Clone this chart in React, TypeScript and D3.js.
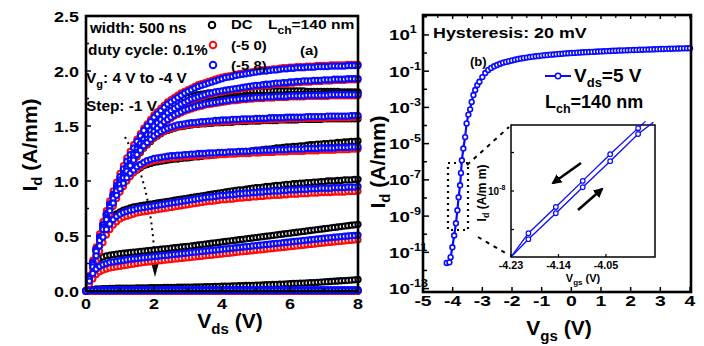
import React from 'react';
import * as d3 from 'd3';

// ---------- Panel (a): output characteristics, Vds sweep (V) ----------
const vds = [
  0, 0.1, 0.2, 0.3, 0.4, 0.5, 0.6, 0.7, 0.8, 0.9,
  1, 1.1, 1.2, 1.3, 1.4, 1.5, 1.6, 1.7, 1.8, 1.9,
  2, 2.1, 2.2, 2.3, 2.4, 2.5, 2.6, 2.7, 2.8, 2.9,
  3, 3.1, 3.2, 3.3, 3.4, 3.5, 3.6, 3.7, 3.8, 3.9,
  4, 4.1, 4.2, 4.3, 4.4, 4.5, 4.6, 4.7, 4.8, 4.9,
  5, 5.1, 5.2, 5.3, 5.4, 5.5, 5.6, 5.7, 5.8, 5.9,
  6, 6.1, 6.2, 6.3, 6.4, 6.5, 6.6, 6.7, 6.8, 6.9,
  7, 7.1, 7.2, 7.3, 7.4, 7.5, 7.6, 7.7, 7.8, 7.9,
  8,
];

// DC (black), Vg = 4 ... -4 V
const dcVg4 = [
  0, 0.13, 0.26, 0.38, 0.49, 0.6, 0.7, 0.79, 0.88, 0.96,
  1.03, 1.1, 1.16, 1.22, 1.28, 1.33, 1.38, 1.42, 1.46, 1.5,
  1.54, 1.57, 1.6, 1.63, 1.66, 1.68, 1.7, 1.72, 1.735, 1.75,
  1.76, 1.77, 1.78, 1.785, 1.79, 1.795, 1.8, 1.8, 1.805, 1.805,
  1.81, 1.81, 1.81, 1.815, 1.815, 1.815, 1.815, 1.82, 1.82, 1.82,
  1.82, 1.82, 1.82, 1.82, 1.82, 1.82, 1.82, 1.82, 1.82, 1.82,
  1.82, 1.82, 1.82, 1.82, 1.82, 1.815, 1.815, 1.815, 1.815, 1.815,
  1.815, 1.815, 1.815, 1.815, 1.815, 1.81, 1.81, 1.81, 1.81, 1.81,
  1.81,
];
const dcVg3 = [
  0, 0.13, 0.26, 0.38, 0.49, 0.6, 0.69, 0.78, 0.86, 0.93,
  0.99, 1.05, 1.11, 1.16, 1.21, 1.26, 1.3, 1.34, 1.38, 1.42,
  1.45, 1.48, 1.51, 1.54, 1.56, 1.58, 1.6, 1.62, 1.64, 1.66,
  1.67, 1.68, 1.69, 1.7, 1.71, 1.72, 1.725, 1.73, 1.735, 1.74,
  1.745, 1.75, 1.75, 1.755, 1.755, 1.76, 1.76, 1.765, 1.765, 1.77,
  1.77, 1.77, 1.775, 1.775, 1.775, 1.78, 1.78, 1.78, 1.78, 1.785,
  1.785, 1.785, 1.785, 1.785, 1.79, 1.79, 1.79, 1.79, 1.79, 1.79,
  1.795, 1.795, 1.795, 1.795, 1.795, 1.795, 1.795, 1.795, 1.795, 1.795,
  1.795,
];
const dcVg2 = [
  0, 0.13, 0.25, 0.37, 0.48, 0.58, 0.67, 0.76, 0.84, 0.91,
  0.97, 1.03, 1.08, 1.13, 1.18, 1.22, 1.26, 1.3, 1.33, 1.36,
  1.39, 1.41, 1.43, 1.45, 1.46, 1.47, 1.48, 1.49, 1.495, 1.5,
  1.505, 1.51, 1.515, 1.515, 1.52, 1.52, 1.525, 1.525, 1.53, 1.53,
  1.53, 1.535, 1.535, 1.535, 1.54, 1.54, 1.54, 1.54, 1.545, 1.545,
  1.545, 1.545, 1.55, 1.55, 1.55, 1.55, 1.55, 1.555, 1.555, 1.555,
  1.555, 1.555, 1.555, 1.56, 1.56, 1.56, 1.56, 1.56, 1.56, 1.56,
  1.565, 1.565, 1.565, 1.565, 1.565, 1.565, 1.565, 1.565, 1.565, 1.565,
  1.565,
];
const dcVg1 = [
  0, 0.12, 0.24, 0.35, 0.45, 0.55, 0.64, 0.72, 0.79, 0.86,
  0.92, 0.97, 1.01, 1.05, 1.08, 1.1, 1.12, 1.14, 1.15, 1.16,
  1.17, 1.175, 1.18, 1.185, 1.19, 1.195, 1.2, 1.2, 1.205, 1.21,
  1.21, 1.215, 1.22, 1.22, 1.225, 1.23, 1.23, 1.235, 1.24, 1.24,
  1.245, 1.25, 1.25, 1.255, 1.26, 1.26, 1.265, 1.27, 1.27, 1.275,
  1.28, 1.28, 1.285, 1.29, 1.29, 1.295, 1.3, 1.3, 1.305, 1.31,
  1.31, 1.315, 1.315, 1.32, 1.32, 1.325, 1.33, 1.33, 1.335, 1.335,
  1.34, 1.34, 1.345, 1.345, 1.35, 1.35, 1.355, 1.355, 1.36, 1.36,
  1.365,
];
const dcVg0 = [
  0, 0.11, 0.22, 0.32, 0.42, 0.5, 0.57, 0.63, 0.67, 0.7,
  0.72, 0.735, 0.745, 0.755, 0.765, 0.77, 0.775, 0.78, 0.785, 0.79,
  0.795, 0.8, 0.805, 0.81, 0.815, 0.82, 0.825, 0.83, 0.835, 0.84,
  0.845, 0.85, 0.855, 0.86, 0.865, 0.87, 0.875, 0.88, 0.885, 0.89,
  0.895, 0.9, 0.905, 0.91, 0.915, 0.92, 0.92, 0.925, 0.93, 0.935,
  0.94, 0.94, 0.945, 0.95, 0.95, 0.955, 0.96, 0.96, 0.965, 0.97,
  0.97, 0.975, 0.975, 0.98, 0.98, 0.985, 0.985, 0.99, 0.99, 0.995,
  0.995, 1.0, 1.0, 1.0, 1.005, 1.005, 1.01, 1.01, 1.01, 1.015,
  1.015,
];
const dcVgm1 = [
  0, 0.13, 0.22, 0.27, 0.295, 0.31, 0.32, 0.325, 0.33, 0.335,
  0.34, 0.343, 0.346, 0.35, 0.353, 0.356, 0.36, 0.363, 0.366, 0.37,
  0.373, 0.376, 0.38, 0.383, 0.386, 0.39, 0.393, 0.396, 0.4, 0.403,
  0.406, 0.41, 0.414, 0.418, 0.422, 0.426, 0.43, 0.434, 0.438, 0.442,
  0.446, 0.45, 0.454, 0.458, 0.462, 0.466, 0.47, 0.474, 0.478, 0.482,
  0.486, 0.49, 0.494, 0.498, 0.502, 0.506, 0.51, 0.514, 0.518, 0.522,
  0.526, 0.53, 0.534, 0.538, 0.542, 0.546, 0.55, 0.554, 0.558, 0.562,
  0.566, 0.57, 0.574, 0.578, 0.582, 0.586, 0.59, 0.594, 0.598, 0.602,
  0.606,
];
const dcVgm2 = [
  0, 0.01, 0.015, 0.018, 0.02, 0.021, 0.022, 0.023, 0.024, 0.025,
  0.025, 0.026, 0.026, 0.027, 0.027, 0.028, 0.028, 0.029, 0.029, 0.03,
  0.03, 0.031, 0.031, 0.032, 0.032, 0.033, 0.033, 0.034, 0.034, 0.035,
  0.035, 0.036, 0.037, 0.037, 0.038, 0.039, 0.039, 0.04, 0.041, 0.042,
  0.043, 0.044, 0.045, 0.046, 0.047, 0.048, 0.049, 0.05, 0.051, 0.052,
  0.053, 0.054, 0.055, 0.057, 0.058, 0.059, 0.061, 0.062, 0.063, 0.065,
  0.066, 0.068, 0.069, 0.071, 0.072, 0.074, 0.076, 0.077, 0.079, 0.081,
  0.083, 0.085, 0.087, 0.089, 0.091, 0.093, 0.095, 0.097, 0.099, 0.102,
  0.105,
];
const dcVgm3 = [
  0, 0.002, 0.002, 0.002, 0.002, 0.002, 0.002, 0.002, 0.002, 0.002,
  0.002, 0.002, 0.002, 0.002, 0.002, 0.002, 0.002, 0.002, 0.002, 0.002,
  0.002, 0.002, 0.002, 0.002, 0.002, 0.002, 0.002, 0.002, 0.002, 0.002,
  0.002, 0.002, 0.002, 0.002, 0.002, 0.002, 0.002, 0.002, 0.002, 0.002,
  0.002, 0.002, 0.002, 0.002, 0.002, 0.002, 0.002, 0.002, 0.002, 0.002,
  0.002, 0.002, 0.002, 0.002, 0.002, 0.002, 0.002, 0.002, 0.002, 0.002,
  0.002, 0.002, 0.002, 0.002, 0.002, 0.002, 0.002, 0.002, 0.002, 0.002,
  0.002, 0.002, 0.002, 0.002, 0.002, 0.002, 0.002, 0.002, 0.002, 0.002,
  0.002,
];
const dcVgm4 = [
  0, 0, 0, 0, 0, 0, 0, 0, 0, 0,
  0, 0, 0, 0, 0, 0, 0, 0, 0, 0,
  0, 0, 0, 0, 0, 0, 0, 0, 0, 0,
  0, 0, 0, 0, 0, 0, 0, 0, 0, 0,
  0, 0, 0, 0, 0, 0, 0, 0, 0, 0,
  0, 0, 0, 0, 0, 0, 0, 0, 0, 0,
  0, 0, 0, 0, 0, 0, 0, 0, 0, 0,
  0, 0, 0, 0, 0, 0, 0, 0, 0, 0,
  0,
];

// Pulsed, quiescent (-5 0) (red)
const p50Vg4 = [
  0, 0.14, 0.28, 0.4, 0.52, 0.63, 0.73, 0.82, 0.91, 0.99,
  1.07, 1.14, 1.21, 1.27, 1.33, 1.38, 1.43, 1.48, 1.52, 1.56,
  1.6, 1.63, 1.66, 1.69, 1.72, 1.74, 1.76, 1.78, 1.8, 1.815,
  1.83, 1.845, 1.86, 1.875, 1.885, 1.895, 1.905, 1.915, 1.925, 1.935,
  1.945, 1.95, 1.955, 1.96, 1.97, 1.975, 1.98, 1.985, 1.99, 1.995,
  2.0, 2.005, 2.01, 2.01, 2.015, 2.02, 2.02, 2.025, 2.03, 2.03,
  2.035, 2.035, 2.04, 2.04, 2.04, 2.045, 2.045, 2.045, 2.05, 2.05,
  2.05, 2.05, 2.055, 2.055, 2.055, 2.055, 2.055, 2.06, 2.06, 2.06,
  2.06,
];
const p50Vg3 = [
  0, 0.13, 0.26, 0.38, 0.49, 0.6, 0.7, 0.79, 0.87, 0.94,
  1.0, 1.06, 1.12, 1.18, 1.23, 1.28, 1.33, 1.37, 1.41, 1.45,
  1.49, 1.52, 1.55, 1.58, 1.61, 1.63, 1.65, 1.67, 1.69, 1.705,
  1.72, 1.735, 1.745, 1.755, 1.765, 1.775, 1.785, 1.79, 1.8, 1.805,
  1.81, 1.815, 1.82, 1.825, 1.83, 1.835, 1.84, 1.845, 1.85, 1.855,
  1.86, 1.86, 1.865, 1.87, 1.87, 1.875, 1.88, 1.88, 1.885, 1.885,
  1.89, 1.89, 1.895, 1.895, 1.9, 1.9, 1.9, 1.905, 1.905, 1.905,
  1.91, 1.91, 1.91, 1.915, 1.915, 1.915, 1.915, 1.92, 1.92, 1.92,
  1.92,
];
const p50Vg2 = [
  0, 0.13, 0.26, 0.38, 0.49, 0.59, 0.68, 0.77, 0.85, 0.92,
  0.98, 1.04, 1.1, 1.15, 1.2, 1.25, 1.29, 1.33, 1.37, 1.41,
  1.44, 1.47, 1.5, 1.53, 1.55, 1.57, 1.59, 1.605, 1.62, 1.635,
  1.645, 1.655, 1.665, 1.675, 1.68, 1.69, 1.695, 1.7, 1.705, 1.71,
  1.715, 1.72, 1.725, 1.73, 1.73, 1.735, 1.74, 1.74, 1.745, 1.745,
  1.75, 1.75, 1.75, 1.755, 1.755, 1.755, 1.76, 1.76, 1.76, 1.76,
  1.765, 1.765, 1.765, 1.765, 1.765, 1.77, 1.77, 1.77, 1.77, 1.77,
  1.77, 1.77, 1.775, 1.775, 1.775, 1.775, 1.775, 1.775, 1.775, 1.775,
  1.775,
];
const p50Vg1 = [
  0, 0.12, 0.24, 0.36, 0.47, 0.57, 0.66, 0.75, 0.83, 0.9,
  0.96, 1.02, 1.08, 1.13, 1.18, 1.225, 1.265, 1.305, 1.335, 1.365,
  1.395, 1.415, 1.435, 1.45, 1.465, 1.475, 1.485, 1.495, 1.5, 1.505,
  1.51, 1.515, 1.515, 1.52, 1.525, 1.525, 1.53, 1.53, 1.535, 1.535,
  1.54, 1.54, 1.54, 1.545, 1.545, 1.545, 1.55, 1.55, 1.55, 1.55,
  1.555, 1.555, 1.555, 1.555, 1.56, 1.56, 1.56, 1.56, 1.56, 1.565,
  1.565, 1.565, 1.565, 1.565, 1.565, 1.57, 1.57, 1.57, 1.57, 1.57,
  1.57, 1.575, 1.575, 1.575, 1.575, 1.575, 1.575, 1.575, 1.58, 1.58,
  1.58,
];
const p50Vg0 = [
  0, 0.11, 0.22, 0.33, 0.43, 0.53, 0.62, 0.7, 0.77, 0.84,
  0.9, 0.95, 1.0, 1.04, 1.075, 1.105, 1.13, 1.15, 1.165, 1.175,
  1.185, 1.19, 1.195, 1.2, 1.205, 1.21, 1.21, 1.215, 1.215, 1.22,
  1.22, 1.225, 1.225, 1.23, 1.23, 1.23, 1.235, 1.235, 1.235, 1.24,
  1.24, 1.24, 1.245, 1.245, 1.245, 1.25, 1.25, 1.25, 1.25, 1.255,
  1.255, 1.255, 1.26, 1.26, 1.26, 1.26, 1.265, 1.265, 1.265, 1.265,
  1.27, 1.27, 1.27, 1.27, 1.27, 1.275, 1.275, 1.275, 1.275, 1.28,
  1.28, 1.28, 1.28, 1.28, 1.285, 1.285, 1.285, 1.285, 1.29, 1.29,
  1.29,
];
const p50Vgm1 = [
  0, 0.09, 0.18, 0.27, 0.36, 0.44, 0.51, 0.56, 0.6, 0.63,
  0.655, 0.67, 0.68, 0.69, 0.7, 0.71, 0.715, 0.72, 0.725, 0.73,
  0.735, 0.74, 0.745, 0.75, 0.755, 0.76, 0.765, 0.77, 0.775, 0.78,
  0.785, 0.79, 0.795, 0.8, 0.805, 0.81, 0.815, 0.815, 0.82, 0.825,
  0.83, 0.83, 0.835, 0.835, 0.84, 0.845, 0.845, 0.85, 0.85, 0.855,
  0.855, 0.86, 0.86, 0.865, 0.865, 0.87, 0.87, 0.87, 0.875, 0.875,
  0.88, 0.88, 0.88, 0.885, 0.885, 0.885, 0.89, 0.89, 0.89, 0.895,
  0.895, 0.895, 0.895, 0.9, 0.9, 0.9, 0.9, 0.905, 0.905, 0.905,
  0.91,
];
const p50Vgm2 = [
  0, 0.06, 0.11, 0.15, 0.175, 0.19, 0.2, 0.21, 0.215, 0.22,
  0.225, 0.23, 0.235, 0.24, 0.245, 0.25, 0.255, 0.26, 0.263, 0.266,
  0.27, 0.273, 0.276, 0.28, 0.283, 0.286, 0.29, 0.293, 0.296, 0.3,
  0.303, 0.306, 0.31, 0.313, 0.316, 0.32, 0.323, 0.326, 0.33, 0.333,
  0.336, 0.34, 0.343, 0.346, 0.35, 0.353, 0.356, 0.36, 0.363, 0.366,
  0.37, 0.373, 0.376, 0.38, 0.383, 0.386, 0.39, 0.393, 0.396, 0.4,
  0.403, 0.406, 0.41, 0.413, 0.416, 0.42, 0.423, 0.426, 0.43, 0.433,
  0.436, 0.44, 0.443, 0.446, 0.449, 0.452, 0.455, 0.458, 0.461, 0.464,
  0.467,
];
const p50Vgm3 = [
  0, 0.004, 0.004, 0.004, 0.004, 0.004, 0.004, 0.004, 0.004, 0.004,
  0.004, 0.004, 0.004, 0.004, 0.004, 0.004, 0.004, 0.004, 0.004, 0.004,
  0.004, 0.004, 0.004, 0.004, 0.004, 0.004, 0.004, 0.004, 0.004, 0.004,
  0.004, 0.004, 0.004, 0.004, 0.004, 0.004, 0.004, 0.004, 0.004, 0.004,
  0.004, 0.004, 0.004, 0.004, 0.004, 0.004, 0.004, 0.004, 0.004, 0.004,
  0.004, 0.004, 0.004, 0.004, 0.004, 0.004, 0.004, 0.004, 0.004, 0.004,
  0.004, 0.004, 0.004, 0.004, 0.004, 0.004, 0.004, 0.004, 0.004, 0.004,
  0.004, 0.004, 0.004, 0.004, 0.004, 0.004, 0.004, 0.004, 0.004, 0.004,
  0.004,
];
const p50Vgm4 = dcVgm4;

// Pulsed, quiescent (-5 8) (blue)
const p58Vg4 = [
  0, 0.13, 0.26, 0.38, 0.49, 0.6, 0.7, 0.79, 0.88, 0.96,
  1.04, 1.11, 1.18, 1.24, 1.3, 1.36, 1.41, 1.46, 1.5, 1.54,
  1.58, 1.61, 1.64, 1.67, 1.7, 1.72, 1.74, 1.76, 1.78, 1.8,
  1.815, 1.83, 1.845, 1.86, 1.87, 1.88, 1.89, 1.9, 1.91, 1.92,
  1.93, 1.94, 1.945, 1.95, 1.96, 1.965, 1.97, 1.975, 1.98, 1.985,
  1.99, 1.995, 2.0, 2.0, 2.005, 2.01, 2.01, 2.015, 2.02, 2.02,
  2.025, 2.025, 2.03, 2.03, 2.03, 2.035, 2.035, 2.035, 2.04, 2.04,
  2.04, 2.04, 2.045, 2.045, 2.045, 2.045, 2.045, 2.05, 2.05, 2.05,
  2.05,
];
const p58Vg3 = [
  0, 0.13, 0.26, 0.38, 0.49, 0.6, 0.7, 0.79, 0.87, 0.94,
  1.01, 1.07, 1.13, 1.19, 1.24, 1.29, 1.34, 1.38, 1.42, 1.46,
  1.5, 1.53, 1.56, 1.59, 1.62, 1.64, 1.66, 1.68, 1.7, 1.715,
  1.73, 1.745, 1.755, 1.765, 1.775, 1.785, 1.795, 1.8, 1.81, 1.815,
  1.82, 1.825, 1.83, 1.835, 1.84, 1.845, 1.85, 1.855, 1.86, 1.865,
  1.87, 1.87, 1.875, 1.88, 1.88, 1.885, 1.89, 1.89, 1.895, 1.895,
  1.9, 1.9, 1.905, 1.905, 1.91, 1.91, 1.91, 1.915, 1.915, 1.915,
  1.92, 1.92, 1.92, 1.925, 1.925, 1.925, 1.925, 1.93, 1.93, 1.93,
  1.93,
];
const p58Vg2 = [
  0, 0.13, 0.26, 0.38, 0.49, 0.6, 0.69, 0.78, 0.86, 0.93,
  0.99, 1.05, 1.11, 1.16, 1.21, 1.26, 1.3, 1.34, 1.38, 1.42,
  1.45, 1.48, 1.51, 1.54, 1.56, 1.58, 1.6, 1.615, 1.63, 1.645,
  1.655, 1.665, 1.675, 1.685, 1.69, 1.7, 1.705, 1.71, 1.715, 1.72,
  1.725, 1.73, 1.735, 1.74, 1.74, 1.745, 1.75, 1.75, 1.755, 1.755,
  1.76, 1.76, 1.76, 1.765, 1.765, 1.765, 1.77, 1.77, 1.77, 1.77,
  1.775, 1.775, 1.775, 1.775, 1.775, 1.78, 1.78, 1.78, 1.78, 1.78,
  1.78, 1.78, 1.785, 1.785, 1.785, 1.785, 1.785, 1.785, 1.785, 1.785,
  1.785,
];
const p58Vg1 = [
  0, 0.13, 0.25, 0.37, 0.48, 0.58, 0.67, 0.76, 0.84, 0.91,
  0.97, 1.03, 1.09, 1.14, 1.19, 1.24, 1.28, 1.32, 1.35, 1.38,
  1.41, 1.43, 1.45, 1.465, 1.48, 1.49, 1.5, 1.51, 1.515, 1.52,
  1.525, 1.53, 1.53, 1.535, 1.54, 1.54, 1.545, 1.545, 1.55, 1.55,
  1.555, 1.555, 1.555, 1.56, 1.56, 1.56, 1.565, 1.565, 1.565, 1.565,
  1.57, 1.57, 1.57, 1.57, 1.575, 1.575, 1.575, 1.575, 1.575, 1.58,
  1.58, 1.58, 1.58, 1.58, 1.58, 1.585, 1.585, 1.585, 1.585, 1.585,
  1.585, 1.59, 1.59, 1.59, 1.59, 1.59, 1.59, 1.59, 1.595, 1.595,
  1.595,
];
const p58Vg0 = [
  0, 0.12, 0.24, 0.36, 0.46, 0.56, 0.65, 0.73, 0.8, 0.87,
  0.93, 0.98, 1.03, 1.07, 1.1, 1.13, 1.15, 1.17, 1.185, 1.195,
  1.205, 1.21, 1.215, 1.22, 1.225, 1.23, 1.23, 1.235, 1.235, 1.24,
  1.24, 1.245, 1.245, 1.25, 1.25, 1.25, 1.255, 1.255, 1.255, 1.26,
  1.26, 1.26, 1.265, 1.265, 1.265, 1.27, 1.27, 1.27, 1.27, 1.275,
  1.275, 1.275, 1.28, 1.28, 1.28, 1.28, 1.285, 1.285, 1.285, 1.285,
  1.29, 1.29, 1.29, 1.29, 1.29, 1.295, 1.295, 1.295, 1.295, 1.3,
  1.3, 1.3, 1.3, 1.3, 1.305, 1.305, 1.305, 1.305, 1.31, 1.31,
  1.31,
];
const p58Vgm1 = [
  0, 0.11, 0.22, 0.32, 0.41, 0.49, 0.56, 0.61, 0.65, 0.68,
  0.7, 0.715, 0.725, 0.735, 0.74, 0.75, 0.755, 0.76, 0.765, 0.77,
  0.775, 0.78, 0.785, 0.79, 0.795, 0.8, 0.805, 0.81, 0.815, 0.82,
  0.825, 0.83, 0.835, 0.84, 0.845, 0.85, 0.855, 0.855, 0.86, 0.865,
  0.87, 0.87, 0.875, 0.875, 0.88, 0.885, 0.885, 0.89, 0.89, 0.895,
  0.895, 0.9, 0.9, 0.905, 0.905, 0.91, 0.91, 0.91, 0.915, 0.915,
  0.92, 0.92, 0.92, 0.925, 0.925, 0.925, 0.93, 0.93, 0.93, 0.935,
  0.935, 0.935, 0.935, 0.94, 0.94, 0.94, 0.94, 0.945, 0.945, 0.945,
  0.95,
];
const p58Vgm2 = [
  0, 0.09, 0.16, 0.2, 0.225, 0.24, 0.25, 0.26, 0.265, 0.27,
  0.275, 0.28, 0.285, 0.29, 0.293, 0.296, 0.3, 0.303, 0.306, 0.31,
  0.313, 0.316, 0.32, 0.323, 0.326, 0.33, 0.333, 0.336, 0.34, 0.343,
  0.346, 0.35, 0.353, 0.356, 0.36, 0.363, 0.366, 0.37, 0.373, 0.376,
  0.38, 0.383, 0.386, 0.39, 0.393, 0.396, 0.4, 0.403, 0.406, 0.41,
  0.413, 0.416, 0.42, 0.423, 0.426, 0.43, 0.433, 0.436, 0.44, 0.443,
  0.446, 0.45, 0.453, 0.456, 0.46, 0.463, 0.466, 0.47, 0.473, 0.476,
  0.48, 0.483, 0.486, 0.489, 0.492, 0.495, 0.498, 0.5, 0.503, 0.505,
  0.508,
];
const p58Vgm3 = [
  0, 0.008, 0.01, 0.011, 0.012, 0.012, 0.012, 0.012, 0.012, 0.012,
  0.012, 0.012, 0.012, 0.012, 0.012, 0.012, 0.012, 0.012, 0.012, 0.012,
  0.012, 0.012, 0.012, 0.012, 0.012, 0.012, 0.012, 0.012, 0.012, 0.012,
  0.012, 0.012, 0.012, 0.012, 0.012, 0.012, 0.012, 0.012, 0.012, 0.012,
  0.012, 0.012, 0.012, 0.012, 0.012, 0.012, 0.012, 0.012, 0.012, 0.012,
  0.012, 0.012, 0.012, 0.012, 0.012, 0.012, 0.012, 0.012, 0.012, 0.012,
  0.012, 0.012, 0.012, 0.012, 0.012, 0.012, 0.012, 0.012, 0.012, 0.012,
  0.012, 0.012, 0.012, 0.012, 0.012, 0.012, 0.012, 0.012, 0.012, 0.012,
  0.012,
];
const p58Vgm4 = p50Vgm3;

// ---------- Panel (b): transfer curve at Vds = 5 V ----------
const vgsMain = [
  -4.2, -4.11, -4.07, -4.01, -3.95, -3.89, -3.84, -3.8, -3.75, -3.72,
  -3.69, -3.64, -3.58, -3.53, -3.47, -3.41, -3.36, -3.3, -3.24, -3.17,
  -3.1, -3.0, -2.9, -2.8, -2.7, -2.6, -2.5, -2.4, -2.3, -2.2,
  -2.1, -2.0, -1.9, -1.8, -1.7, -1.6, -1.5, -1.4, -1.3, -1.2,
  -1.1, -1.0, -0.9, -0.8, -0.7, -0.6, -0.5, -0.4, -0.3, -0.2,
  -0.1, 0, 0.1, 0.2, 0.3, 0.4, 0.5, 0.6, 0.7, 0.8,
  0.9, 1.0, 1.1, 1.2, 1.3, 1.4, 1.5, 1.6, 1.7, 1.8,
  1.9, 2.0, 2.1, 2.2, 2.3, 2.4, 2.5, 2.6, 2.7, 2.8,
  2.9, 3.0, 3.1, 3.2, 3.3, 3.4, 3.5, 3.6, 3.7, 3.8,
  3.9, 4.0,
];
const idMain = [
  2.6e-12, 2.8e-12, 5.4e-12, 1.9e-11, 8.5e-11, 4.0e-10, 2.1e-9, 1.1e-8, 5.0e-8, 2.4e-7,
  1.2e-6, 5.4e-6, 2.3e-5, 1.3e-4, 4.0e-4, 7.8e-4, 2.0e-3, 4.8e-3, 9.1e-3, 1.7e-2,
  0.026, 0.047, 0.079, 0.117, 0.151, 0.186, 0.219, 0.257, 0.295, 0.324,
  0.355, 0.389, 0.427, 0.468, 0.501, 0.537, 0.562, 0.603, 0.631, 0.661,
  0.692, 0.724, 0.759, 0.776, 0.813, 0.832, 0.871, 0.891, 0.912, 0.955,
  0.977, 1.0, 1.02, 1.05, 1.07, 1.1, 1.12, 1.14, 1.16, 1.19,
  1.21, 1.23, 1.25, 1.28, 1.3, 1.33, 1.35, 1.37, 1.39, 1.41,
  1.43, 1.45, 1.47, 1.49, 1.51, 1.53, 1.55, 1.57, 1.59, 1.62,
  1.64, 1.66, 1.68, 1.7, 1.72, 1.74, 1.76, 1.78, 1.8, 1.82,
  1.84, 1.86,
];

// Inset: hysteresis detail
const vgsInsetRev = [-4.23, -4.197, -4.145, -4.094, -4.042, -3.989, -3.975];
const idInsetRev = [3.05e-9, 4.68e-9, 7.5e-9, 1.2e-8, 1.94e-8, 3.1e-8, 3.5e-8];
const vgsInsetFwd = [-4.23, -4.197, -4.145, -4.094, -4.042, -3.989, -3.96];
const idInsetFwd = [3.05e-9, 4.2e-9, 6.7e-9, 1.07e-8, 1.71e-8, 2.79e-8, 3.45e-8];

// Tick values
const yTicksA = [0, 0.5, 1, 1.5, 2, 2.5];
const yMinorA = [0.25, 0.75, 1.25, 1.75, 2.25];
const xTicksA = [0, 2, 4, 6, 8];
const xMinorA = [1, 3, 5, 7];
const yExpB = [1, -1, -3, -5, -7, -9, -11, -13];
const yMinorExpB = [2, 0, -2, -4, -6, -8, -10, -12];
const xTicksB = [-5, -4, -3, -2, -1, 0, 1, 2, 3, 4];
const xTicksInset = [-4.23, -4.14, -4.05];
const yTicksInset = [5e-9, 1e-8, 2e-8];

const BLUE = '#0a0aff';
const RED = '#ff0a0a';
const FONT = "'Liberation Sans', Arial, Helvetica, sans-serif";

type TProps = {
  x: number; y: number; size: number; sx?: number; anchor?: string; rotate?: number;
  children: React.ReactNode;
};
const T = ({ x, y, size, sx = 1, anchor = 'start', rotate = 0, children }: TProps) => (
  <text
    transform={`translate(${x},${y}) scale(${sx},1)${rotate ? ` rotate(${rotate})` : ''}`}
    fontSize={size}
    fontFamily={FONT}
    fontWeight="bold"
    textAnchor={anchor as any}
    fill="#000"
  >
    {children}
  </text>
);

export default function App() {
  const xA = d3.scaleLinear().domain([0, 8]).range([86, 358]);
  const yA = d3.scaleLinear().domain([0, 2.5]).range([291, 16]);
  const xB = d3.scaleLinear().domain([-5, 4]).range([423, 690]);
  const yB = d3.scaleLog().domain([6.46e-14, 125.9]).range([292, 15]);
  const xI = d3.scaleLinear().domain([-4.23, -3.957]).range([511, 655]);
  const yI = d3.scaleLog().domain([3.05e-9, 3.28e-8]).range([257, 125]);

  const groups = [
    { color: '#000', curves: [dcVg4, dcVg3, dcVg2, dcVg1, dcVg0, dcVgm1, dcVgm2, dcVgm3, dcVgm4] },
    { color: RED, curves: [p50Vg4, p50Vg3, p50Vg2, p50Vg1, p50Vg0, p50Vgm1, p50Vgm2, p50Vgm3, p50Vgm4] },
    { color: BLUE, curves: [p58Vg4, p58Vg3, p58Vg2, p58Vg1, p58Vg0, p58Vgm1, p58Vgm2, p58Vgm3, p58Vgm4] },
  ];

  const mainPts = vgsMain.map((v, i) => [v, idMain[i]] as [number, number]);
  const lineB = d3.line<[number, number]>().x((d) => xB(d[0])).y((d) => yB(d[1]));
  const lineI = d3.line<[number, number]>().x((d) => xI(d[0])).y((d) => yI(d[1]));
  const revPts = vgsInsetRev.map((v, i) => [v, idInsetRev[i]] as [number, number]);
  const fwdPts = vgsInsetFwd.map((v, i) => [v, idInsetFwd[i]] as [number, number]);

  return (
    <svg width={704} height={346} style={{ position: 'absolute', left: 0, top: 0, background: '#fff' }}>
      <defs>
        <marker id="ah" viewBox="0 0 10 10" refX="8" refY="5" markerWidth="4" markerHeight="4" orient="auto">
          <path d="M0,0 L10,5 L0,10 z" fill="#000" />
        </marker>
      </defs>
      <rect x={0} y={0} width={704} height={346} fill="#fff" />

      {/* ================= Panel (a) ================= */}
      <path d="M125,137 C140,165 152,200 155,265" fill="none" stroke="#000" strokeWidth={2} strokeDasharray="2,4" />
      <polygon points="151.5,264 158.5,264 155,277" fill="#000" />

      {groups.map((g, gi) => (
        <g key={gi}>
          {g.curves.map((c, ci) => (
            <g key={ci}>
              {c.map((v, i) => (
                <circle key={i} cx={xA(vds[i])} cy={yA(v)} r={2.6} fill="#fff" stroke={g.color} strokeWidth={2.1} />
              ))}
            </g>
          ))}
        </g>
      ))}

      {/* axes a */}
      <rect x={86} y={16} width={272} height={275} fill="none" stroke="#000" strokeWidth={2.6} />
      {yTicksA.map((t) => (
        <g key={t}>
          <line x1={86} x2={91} y1={yA(t)} y2={yA(t)} stroke="#000" strokeWidth={1.5} />
          <T x={79} y={yA(t) + 5.5} size={15} sx={1.2} anchor="end">{d3.format('.1f')(t)}</T>
        </g>
      ))}
      {yMinorA.map((t) => (
        <line key={t} x1={86} x2={89} y1={yA(t)} y2={yA(t)} stroke="#000" strokeWidth={1.5} />
      ))}
      {xTicksA.map((t) => (
        <g key={t}>
          <line x1={xA(t)} x2={xA(t)} y1={291} y2={286} stroke="#000" strokeWidth={1.5} />
          <T x={xA(t)} y={309} size={15} sx={1.2} anchor="middle">{String(t)}</T>
        </g>
      ))}
      {xMinorA.map((t) => (
        <line key={t} x1={xA(t)} x2={xA(t)} y1={291} y2={288} stroke="#000" strokeWidth={1.5} />
      ))}
      <T x={230} y={328} size={21} anchor="middle">
        V<tspan dy={6} fontSize={15}>ds</tspan><tspan dy={-6}> (V)</tspan>
      </T>
      <T x={37} y={145} size={21} anchor="middle" rotate={-90}>
        I<tspan dy={5} fontSize={15}>d</tspan><tspan dy={-5}> (A/mm)</tspan>
      </T>

      {/* annotations a */}
      <T x={90} y={33} size={14} sx={1.09}>width: 500 ns</T>
      <T x={88} y={55} size={14} sx={1.1}>duty cycle: 0.1%</T>
      <T x={86} y={83} size={14} sx={1.1}>
        V<tspan dy={5} fontSize={10}>g</tspan><tspan dy={-5}>: 4 V to -4 V</tspan>
      </T>
      <T x={86} y={111} size={14} sx={1.1}>Step: -1 V</T>
      <circle cx={212} cy={25} r={3.3} fill="#fff" stroke="#000" strokeWidth={1.9} />
      <circle cx={213} cy={45} r={3.3} fill="#fff" stroke={RED} strokeWidth={1.9} />
      <circle cx={213} cy={65} r={3.3} fill="#fff" stroke={BLUE} strokeWidth={1.9} />
      <T x={231} y={29} size={13} sx={1.15}>DC</T>
      <T x={231} y={50} size={13} sx={1.15}>(-5 0)</T>
      <T x={231} y={70} size={13} sx={1.15}>(-5 8)</T>
      <T x={268} y={29} size={13} sx={1.2}>
        L<tspan dy={5} fontSize={10}>ch</tspan><tspan dy={-5}>=140 nm</tspan>
      </T>
      <T x={300} y={55} size={13} sx={1.15}>(a)</T>

      {/* ================= Panel (b) ================= */}
      <rect x={448} y={163} width={20} height={67} fill="none" stroke="#000" strokeWidth={2.2} strokeDasharray="2,4" />
      <line x1={467} y1={165} x2={509} y2={127} stroke="#000" strokeWidth={2} strokeDasharray="4,5" />
      <line x1={478} y1={237} x2={509} y2={255} stroke="#000" strokeWidth={2} strokeDasharray="4,5" />

      <path d={lineB(mainPts) || ''} fill="none" stroke={BLUE} strokeWidth={2.2} />
      {mainPts.map((d, i) => (
        <circle key={i} cx={xB(d[0])} cy={yB(d[1])} r={2.4} fill="#fff" stroke={BLUE} strokeWidth={1.6} />
      ))}

      <rect x={423} y={15} width={268} height={277} fill="none" stroke="#000" strokeWidth={2.6} />
      {yExpB.map((e) => (
        <g key={e}>
          <line x1={423} x2={429} y1={yB(Math.pow(10, e))} y2={yB(Math.pow(10, e))} stroke="#000" strokeWidth={1.5} />
          <T x={389} y={yB(Math.pow(10, e)) + 5.5} size={15} sx={1.25}>
            10<tspan dy={-7} fontSize={10}>{String(e)}</tspan>
          </T>
        </g>
      ))}
      {yMinorExpB.map((e) => (
        <line key={e} x1={423} x2={427} y1={yB(Math.pow(10, e))} y2={yB(Math.pow(10, e))} stroke="#000" strokeWidth={1.5} />
      ))}
      {xTicksB.map((t) => (
        <g key={t}>
          <line x1={xB(t)} x2={xB(t)} y1={292} y2={287} stroke="#000" strokeWidth={1.5} />
          <line x1={xB(t)} x2={xB(t)} y1={15} y2={19} stroke="#000" strokeWidth={1.5} />
          <line x1={xB(t) + 14.8} x2={xB(t) + 14.8} y1={15} y2={18} stroke="#000" strokeWidth={1.2} />
          <T x={xB(t)} y={306} size={15.5} sx={1.25} anchor="middle">{String(t)}</T>
        </g>
      ))}
      <T x={559} y={335} size={21} anchor="middle">
        V<tspan dy={6} fontSize={15}>gs</tspan><tspan dy={-6}> (V)</tspan>
      </T>
      <T x={385} y={162} size={21} anchor="middle" rotate={-90}>
        I<tspan dy={5} fontSize={15}>d</tspan><tspan dy={-5}> (A/mm)</tspan>
      </T>

      <T x={433} y={38} size={15} sx={1.19}>Hysteresis: 20 mV</T>
      <T x={470} y={66} size={13}>(b)</T>
      <line x1={545} x2={571} y1={76} y2={76} stroke={BLUE} strokeWidth={2} />
      <circle cx={558} cy={76} r={2.7} fill="#fff" stroke={BLUE} strokeWidth={1.5} />
      <T x={574} y={82} size={19}>
        V<tspan dy={5} fontSize={13}>ds</tspan><tspan dy={-5}>=5 V</tspan>
      </T>
      <T x={545} y={108} size={18}>
        L<tspan dy={5} fontSize={12.5}>ch</tspan><tspan dy={-5}>=140 nm</tspan>
      </T>

      {/* ================= Inset ================= */}
      <rect x={511} y={125} width={144} height={132} fill="#fff" stroke="#000" strokeWidth={1.5} />
      <path d={lineI(revPts) || ''} fill="none" stroke={BLUE} strokeWidth={1.3} />
      <path d={lineI(fwdPts) || ''} fill="none" stroke={BLUE} strokeWidth={1.3} />
      {revPts.slice(1, -1).map((d, i) => (
        <circle key={'r' + i} cx={xI(d[0])} cy={yI(d[1])} r={2.3} fill="#fff" stroke={BLUE} strokeWidth={1.2} />
      ))}
      {fwdPts.slice(1, -1).map((d, i) => (
        <circle key={'f' + i} cx={xI(d[0])} cy={yI(d[1])} r={2.3} fill="#fff" stroke={BLUE} strokeWidth={1.2} />
      ))}
      {yTicksInset.map((t) => (
        <line key={t} x1={511} x2={514} y1={yI(t)} y2={yI(t)} stroke="#000" strokeWidth={1.2} />
      ))}
      {xTicksInset.map((t) => (
        <g key={t}>
          <line x1={xI(t)} x2={xI(t)} y1={257} y2={254} stroke="#000" strokeWidth={1.2} />
          <T x={xI(t)} y={269} size={10} sx={1.08} anchor="middle">{String(t)}</T>
        </g>
      ))}
      <T x={488} y={yI(1e-8) + 4} size={10}>
        10<tspan dy={-5} fontSize={7}>-8</tspan>
      </T>
      <T x={583} y={282} size={11} anchor="middle">
        V<tspan dy={3} fontSize={8}>gs</tspan><tspan dy={-3}> (V)</tspan>
      </T>
      <T x={486} y={193} size={12} anchor="middle" rotate={-90}>
        I<tspan dy={3} fontSize={9}>d</tspan><tspan dy={-3}> (A/m m)</tspan>
      </T>
      <line x1={581} y1={163} x2={553} y2={183} stroke="#000" strokeWidth={2.5} markerEnd="url(#ah)" />
      <line x1={578} y1={210} x2={602} y2={189} stroke="#000" strokeWidth={2.5} markerEnd="url(#ah)" />
    </svg>
  );
}
